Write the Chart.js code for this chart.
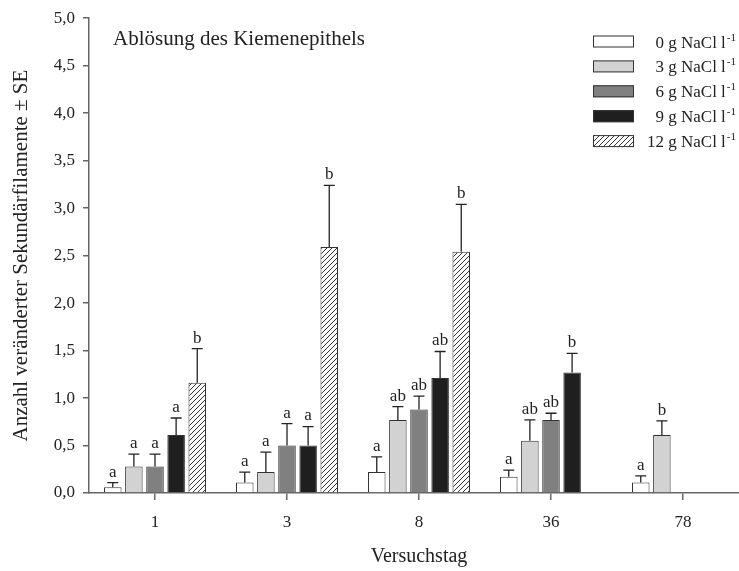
<!DOCTYPE html>
<html>
<head>
<meta charset="utf-8">
<script src="https://cdn.jsdelivr.net/npm/chart.js@4.4.0/dist/chart.umd.min.js"></script>
<style>
html, body { margin: 0; padding: 0; overflow: hidden; background: #fff; }
#box { width: 760px; height: 571px; position: relative; }
</style>
</head>
<body>
<div id="box"><canvas id="grafico"></canvas></div>
<script>
// Daten
const tage = ['1', '3', '8', '36', '78'];
const salz = ['0', '3', '6', '9', '12'];

const mittel0 = [0.06, 0.11, 0.22, 0.17, 0.11];
const mittel3 = [0.28, 0.22, 0.77, 0.55, 0.61];
const mittel6 = [0.28, 0.50, 0.88, 0.77, null];
const mittel9 = [0.61, 0.50, 1.21, 1.27, null];
const mittel12 = [1.16, 2.59, 2.54, null, null];

const se0 = [0.05, 0.11, 0.16, 0.07, 0.07];
const se3 = [0.13, 0.21, 0.14, 0.22, 0.15];
const se6 = [0.13, 0.23, 0.14, 0.07, null];
const se9 = [0.18, 0.20, 0.28, 0.20, null];
const se12 = [0.36, 0.65, 0.50, null, null];

const buchst0 = ['a', 'a', 'a', 'a', 'a'];
const buchst3 = ['a', 'a', 'ab', 'ab', 'b'];
const buchst6 = ['a', 'a', 'ab', 'ab', null];
const buchst9 = ['a', 'a', 'ab', 'b', null];
const buchst12 = ['b', 'b', 'b', null, null];

const yTicks = [0, 0.5, 1, 1.5, 2, 2.5, 3, 3.5, 4, 4.5, 5];

const titel = 'Ablösung des Kiemenepithels';
const yTitel = 'Anzahl veränderter Sekundärfilamente ± SE';
const xTitel = 'Versuchstag';

const serif = '"Liberation Serif", "Times New Roman", serif';
const schwarz = '#222';

// Schraffur fuer 12 g
function schraffur() {
    const s = 5;
    const c = document.createElement('canvas');
    c.width = s;
    c.height = s;
    const g = c.getContext('2d');
    g.fillStyle = '#fff';
    g.fillRect(0, 0, s, s);
    g.strokeStyle = '#333';
    g.lineWidth = 1;
    g.beginPath();
    g.moveTo(0, s); g.lineTo(s, 0);
    g.moveTo(-1, 1); g.lineTo(1, -1);
    g.moveTo(s - 1, s + 1); g.lineTo(s + 1, s - 1);
    g.stroke();
    return g.createPattern(c, 'repeat');
}

const ctx = document.getElementById('grafico').getContext('2d');

const farben = ['#ffffff', '#d2d2d2', '#808080', '#1f1f1f', schraffur()];
const mittel = [mittel0, mittel3, mittel6, mittel9, mittel12];
const fehler = [se0, se3, se6, se9, se12];
const buchst = [buchst0, buchst3, buchst6, buchst9, buchst12];

const datasets = salz.map((s, i) => ({
    label: s + ' g NaCl l-1',
    data: mittel[i],
    se: fehler[i],
    buchst: buchst[i],
    backgroundColor: farben[i],
    borderColor: '#333',
    borderWidth: 1,
    categoryPercentage: 0.8,
    barPercentage: 0.83
}));

// Fehlerbalken und Buchstaben
const fehlerPlugin = {
    id: 'fehler',
    afterDatasetsDraw(chart) {
        const c = chart.ctx;
        const y = chart.scales.y;
        c.save();
        c.strokeStyle = schwarz;
        c.lineWidth = 1.3;
        c.fillStyle = schwarz;
        c.font = '17px ' + serif;
        c.textAlign = 'center';
        c.textBaseline = 'bottom';
        chart.data.datasets.forEach((ds, i) => {
            const meta = chart.getDatasetMeta(i);
            meta.data.forEach((bar, j) => {
                const v = ds.data[j];
                if (v === null) return;
                const oben = y.getPixelForValue(v + ds.se[j]);
                c.beginPath();
                c.moveTo(bar.x, bar.y);
                c.lineTo(bar.x, oben);
                c.moveTo(bar.x - 5.5, oben);
                c.lineTo(bar.x + 5.5, oben);
                c.stroke();
                if (ds.buchst[j]) c.fillText(ds.buchst[j], bar.x, oben - 2);
            });
        });
        c.restore();
    }
};

// Titel und Legende
const legendePlugin = {
    id: 'legende',
    afterDraw(chart) {
        const c = chart.ctx;
        const area = chart.chartArea;
        c.save();
        c.fillStyle = schwarz;
        c.font = '21px ' + serif;
        c.textAlign = 'left';
        c.textBaseline = 'alphabetic';
        c.fillText(titel, area.left + 24, 45);

        chart.data.datasets.forEach((ds, i) => {
            const mitte = 41.5 + i * 24.9;
            c.fillStyle = ds.backgroundColor;
            c.fillRect(593, mitte - 6, 41, 12);
            c.strokeStyle = '#333';
            c.lineWidth = 1;
            c.strokeRect(593.5, mitte - 5.5, 40, 11);

            const haupt = salz[i] + ' g NaCl l';
            const hoch = '-1';
            c.font = '11px ' + serif;
            const bHoch = c.measureText(hoch).width;
            c.font = '17px ' + serif;
            const bHaupt = c.measureText(haupt).width;
            const rechts = 736;
            c.fillStyle = schwarz;
            c.textAlign = 'left';
            c.fillText(haupt, rechts - bHoch - bHaupt - 1, mitte + 6);
            c.font = '11px ' + serif;
            c.fillText(hoch, rechts - bHoch, mitte - 1);
        });
        c.restore();
    }
};

new Chart(ctx, {
    type: 'bar',
    data: {
        labels: tage,
        datasets: datasets
    },
    options: {
        responsive: true,
        maintainAspectRatio: false,
        animation: false,
        layout: { padding: { top: 17, right: 11, left: 0, bottom: 0 } },
        plugins: {
            legend: { display: false },
            tooltip: { enabled: false }
        },
        scales: {
            x: {
                offset: true,
                grid: { drawOnChartArea: false, offset: false, tickLength: 7, color: '#666', lineWidth: 1.5 },
                border: { color: '#666', width: 1.5 },
                ticks: { color: schwarz, font: { family: serif, size: 17 }, padding: 12 },
                title: { display: true, text: xTitel, color: schwarz, font: { family: serif, size: 20 }, padding: { top: 0, bottom: 2 } },
                afterFit(scale) { scale.height = 78; }
            },
            y: {
                min: 0,
                max: 5,
                afterBuildTicks(scale) { scale.ticks = yTicks.map(v => ({ value: v })); },
                grid: { drawOnChartArea: false, tickLength: 6, color: '#666', lineWidth: 1.5 },
                border: { color: '#666', width: 1.5 },
                ticks: {
                    color: schwarz,
                    font: { family: serif, size: 17 },
                    padding: 8,
                    callback: v => v.toFixed(1).replace('.', ',')
                },
                title: { display: true, text: yTitel, color: schwarz, font: { family: serif, size: 21 }, padding: { top: 9, bottom: 0 } },
                afterFit(scale) { scale.width = 89; }
            }
        }
    },
    plugins: [fehlerPlugin, legendePlugin]
});
</script>
</body>
</html>
